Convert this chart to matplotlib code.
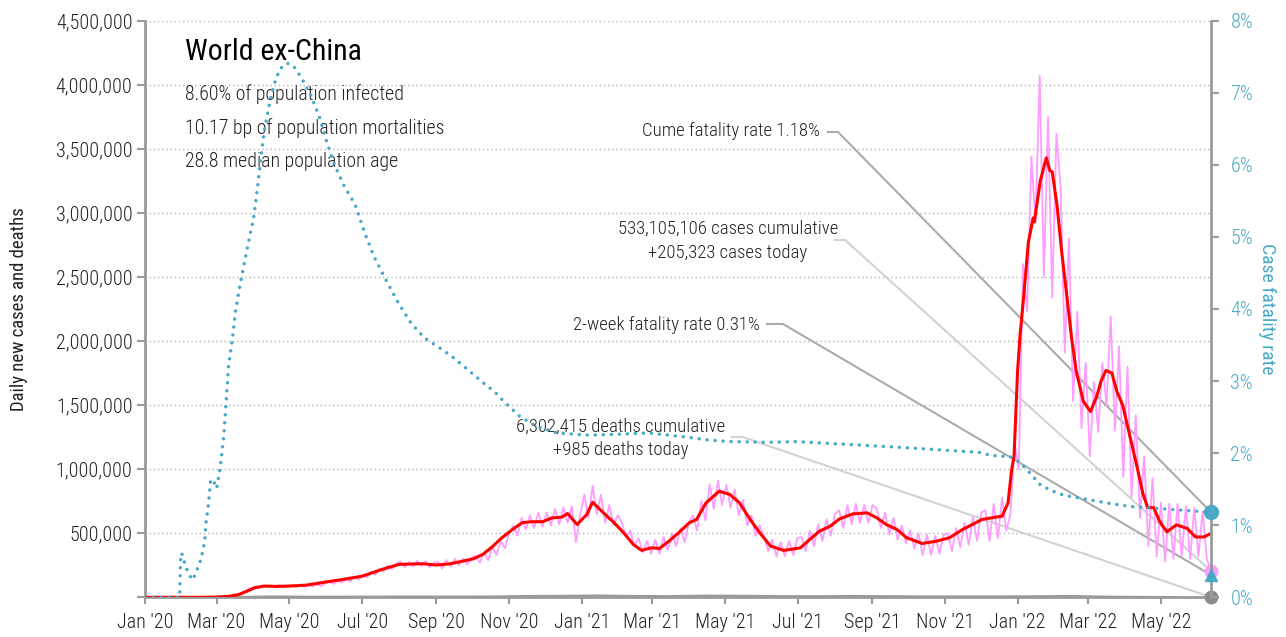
import matplotlib
matplotlib.use("Agg")
import matplotlib.pyplot as plt
import matplotlib.dates as mdates
from matplotlib import font_manager
from matplotlib.ticker import FuncFormatter, MultipleLocator
import numpy as np
import pandas as pd

# pick a narrow font if one is installed
installed = {f.name for f in font_manager.fontManager.ttflist}
family = "DejaVu Sans"
for cand in ["Roboto Condensed", "Liberation Sans Narrow", "Open Sans Condensed"]:
    if cand in installed:
        family = cand
        break
plt.rcParams["font.family"] = [family, "DejaVu Sans"]
plt.rcParams["font.weight"] = "light"

# ---- data ----
end_date = "2022-06-12"

# daily new cases, thousands, one value every 3.5 days (peak / trough of the weekly cycle)
pink_k = [
    0, 0, 0, 0, 0, 0, 0, 0, 0,                      # Jan '20
    0, 0, 0, 0, 1, 1, 1, 2,                         # Feb
    2, 3, 4, 8, 12, 22, 35, 52, 68,                 # Mar
    80, 72, 88, 78, 92, 80, 95, 78, 90,             # Apr
    92, 80, 95, 82, 98, 85, 100, 88, 110,           # May
    120, 105, 130, 115, 140, 125, 160, 140,         # Jun
    175, 155, 200, 175, 225, 200, 250, 220, 265,    # Jul
    280, 235, 275, 240, 285, 245, 280, 235, 270,    # Aug
    275, 225, 290, 240, 300, 250, 300, 255, 310,    # Sep
    320, 270, 350, 290, 390, 330, 440, 380, 500,    # Oct
    560, 480, 620, 530, 640, 540, 660, 550,         # Nov
    660, 560, 690, 570, 700, 580, 710, 430, 640,    # Dec
    800, 620, 870, 650, 800, 580, 720, 560, 640,    # Jan '21
    580, 470, 520, 400, 460, 350, 440, 340,         # Feb
    450, 340, 470, 370, 500, 400, 540, 430, 580,    # Mar
    640, 520, 750, 600, 880, 690, 910, 720,         # Apr
    880, 700, 840, 640, 760, 560, 640, 480, 560,    # May
    480, 360, 450, 320, 430, 320, 440, 330, 460,    # Jun
    470, 360, 520, 400, 570, 440, 610, 480, 650,    # Jul
    680, 540, 720, 570, 730, 580, 720, 580, 720,    # Aug
    690, 540, 660, 490, 620, 450, 560, 420,         # Sep
    520, 380, 500, 330, 490, 330, 480, 340, 490,    # Oct
    500, 360, 540, 390, 580, 410, 630, 440, 660,    # Nov
    680, 440, 730, 460, 780, 520, 650, 1200,        # Dec
    1000, 2600, 2230, 3440, 2920, 4070, 2500, 3750, 2340,  # Jan '22
    3620, 3200, 1910, 2800, 1530, 2230, 1320, 1830,        # Feb
    1100, 1680, 1290, 1830, 1500, 2190, 1300, 1960, 940,   # Mar
    1800, 780, 1420, 620, 1100, 400, 930, 320, 740,        # Apr
    280, 730, 300, 730, 320, 710, 300, 700,                # May
    320, 670, 300, 205,                                    # Jun
]

# 7-day average of new cases, thousands
red_dates = [
    "2020-01-01", "2020-02-15", "2020-03-01", "2020-03-12", "2020-03-20", "2020-03-27",
    "2020-04-02", "2020-04-10", "2020-04-20", "2020-05-01", "2020-05-15", "2020-06-01",
    "2020-06-15", "2020-07-01", "2020-07-20", "2020-08-01", "2020-08-20", "2020-09-01",
    "2020-09-13", "2020-10-02", "2020-10-10", "2020-10-18", "2020-10-26", "2020-11-04",
    "2020-11-12", "2020-11-20", "2020-11-29", "2020-12-07", "2020-12-15", "2020-12-20",
    "2020-12-28", "2021-01-05", "2021-01-10", "2021-01-19", "2021-01-28", "2021-02-05",
    "2021-02-13", "2021-02-20", "2021-02-28", "2021-03-07", "2021-03-15", "2021-03-23",
    "2021-04-01", "2021-04-07", "2021-04-15", "2021-04-26", "2021-05-05", "2021-05-13",
    "2021-05-22", "2021-05-30", "2021-06-08", "2021-06-19", "2021-07-03", "2021-07-11",
    "2021-07-19", "2021-07-28", "2021-08-05", "2021-08-16", "2021-08-28", "2021-09-05",
    "2021-09-13", "2021-09-22", "2021-09-30", "2021-10-13", "2021-10-25", "2021-11-05",
    "2021-11-16", "2021-11-27", "2021-12-02", "2021-12-10", "2021-12-19", "2021-12-24",
    "2021-12-27", "2021-12-29", "2022-01-01", "2022-01-03", "2022-01-06", "2022-01-10",
    "2022-01-14", "2022-01-15", "2022-01-20", "2022-01-25", "2022-01-28", "2022-01-30",
    "2022-02-03", "2022-02-07", "2022-02-11", "2022-02-15", "2022-02-19", "2022-02-25",
    "2022-03-03", "2022-03-08", "2022-03-12", "2022-03-16", "2022-03-21", "2022-03-25",
    "2022-03-30", "2022-04-05", "2022-04-11", "2022-04-16", "2022-04-20", "2022-04-25",
    "2022-04-30", "2022-05-06", "2022-05-14", "2022-05-23", "2022-05-30", "2022-06-06",
    "2022-06-12",
]
red_k = [
    0, 0, 2, 8, 23, 50,
    75, 88, 85, 88, 95, 120,
    140, 165, 225, 257, 262, 252,
    262, 300, 335, 395, 465, 530,
    582, 590, 590, 620, 625, 654,
    568, 646, 742, 659, 582, 503,
    413, 366, 386, 381, 439, 503,
    582, 607, 737, 828, 802, 737,
    607, 503, 400, 366, 386, 452,
    516, 555, 613, 651, 659, 620,
    568, 529, 465, 420, 438, 465,
    530, 582, 607, 620, 633, 737,
    997, 1100, 1770, 2040, 2340, 2770,
    2960, 2930, 3250, 3430, 3330, 3320,
    3060, 2690, 2370, 2040, 1770, 1530,
    1450, 1560, 1690, 1770, 1750, 1610,
    1500, 1260, 1020, 807, 700, 700,
    592, 511, 565, 538, 471, 471,
    498,
]

# daily deaths, thousands (monthly read, hugs the zero line)
death_k = [0, 0, 2, 6.5, 4.5, 4.8, 5.5, 6, 5.5, 6, 10, 11.5,
           14, 10, 9, 13, 12, 9, 8.5, 10, 8.5, 7, 7, 7,
           8, 10.5, 5, 3, 2]

# case fatality rate, percent
cfr_dates = [
    "2020-01-01", "2020-01-30", "2020-01-31", "2020-02-01", "2020-02-04", "2020-02-07",
    "2020-02-10", "2020-02-13", "2020-02-17", "2020-02-20", "2020-02-21", "2020-02-23",
    "2020-02-25", "2020-02-27", "2020-03-01", "2020-03-04", "2020-03-07", "2020-03-09",
    "2020-03-11", "2020-03-14", "2020-03-17", "2020-03-20", "2020-03-24", "2020-03-27",
    "2020-04-01", "2020-04-04", "2020-04-07", "2020-04-10", "2020-04-14", "2020-04-18",
    "2020-04-23", "2020-04-29", "2020-05-04", "2020-05-11", "2020-05-19", "2020-05-26",
    "2020-06-01", "2020-06-08", "2020-06-16", "2020-06-25", "2020-07-03", "2020-07-11",
    "2020-07-20", "2020-07-31", "2020-08-11", "2020-08-22", "2020-09-03", "2020-09-15",
    "2020-09-28", "2020-10-10", "2020-10-20", "2020-10-28", "2020-11-10", "2020-11-24",
    "2020-12-11", "2021-01-06", "2021-01-28", "2021-02-26", "2021-03-26", "2021-04-18",
    "2021-05-07", "2021-06-05", "2021-06-30", "2021-09-25", "2021-12-01", "2021-12-09",
    "2021-12-26", "2022-01-03", "2022-01-11", "2022-01-20", "2022-01-28", "2022-02-06",
    "2022-02-14", "2022-03-03", "2022-03-20", "2022-04-05", "2022-04-22", "2022-05-09",
    "2022-05-26", "2022-06-12",
]
cfr_pct = [
    0, 0, 0.61, 0.60, 0.43, 0.31,
    0.24, 0.36, 0.53, 0.78, 1.02, 1.27,
    1.63, 1.63, 1.51, 1.80, 2.24, 2.72,
    3.21, 3.56, 3.99, 4.28, 4.62, 4.87,
    5.26, 5.65, 6.09, 6.48, 6.82, 7.11,
    7.33, 7.41, 7.38, 7.21, 6.96, 6.67,
    6.33, 5.99, 5.70, 5.45, 5.06, 4.72,
    4.43, 4.09, 3.80, 3.60, 3.47, 3.33,
    3.15, 2.98, 2.85, 2.71, 2.51, 2.37,
    2.28, 2.25, 2.26, 2.28, 2.23, 2.18,
    2.16, 2.15, 2.16, 2.08, 2.01, 1.97,
    1.95, 1.87, 1.73, 1.56, 1.49, 1.43,
    1.40, 1.35, 1.30, 1.26, 1.24, 1.22,
    1.20, 1.18,
]

cume_cfr = 1.18
two_week_cfr = 0.31
cases_today = 205323
deaths_today = 985

title = "World ex-China"
facts = ["8.60% of population infected",
         "10.17 bp of population mortalities",
         "28.8 median population age"]

# ---- plot ----
TEAL = "#47a9c6"
GRID = "#b4b4b4"
SPINE = "#9a9a9a"

pink_dates = pd.date_range(end=end_date, periods=len(pink_k), freq="84h")
red_dt = pd.to_datetime(red_dates)
cfr_dt = pd.to_datetime(cfr_dates)
death_dates = pd.date_range("2020-01-01", periods=len(death_k), freq="MS") + pd.Timedelta(days=14)
end = pd.Timestamp(end_date)

fig = plt.figure(figsize=(12.86, 6.37), dpi=100)
ax = fig.add_axes([145 / 1286, 39.7 / 637, 1066 / 1286, 576.6 / 637])
ax2 = ax.twinx()

ax.plot(pink_dates, np.array(pink_k) * 1000, color="#ff9cff", lw=1.3, zorder=2)
ax.plot(death_dates, np.array(death_k) * 1000, color="#999999", lw=1.5, zorder=2)
ax.plot(red_dt, np.array(red_k) * 1000, color="#ff0000", lw=2.2, zorder=3)
ax2.plot(cfr_dt, np.array(cfr_pct) / 100, color=TEAL, lw=2.5,
         linestyle=(0, (0.01, 2.3)), dash_capstyle="round", zorder=3)

# end-of-series markers
ax.plot([end], [cases_today], "o", color="#ff9cff", ms=9, clip_on=False, zorder=5)
ax.plot([end], [deaths_today], "o", color="#8c8c8c", ms=9, clip_on=False, zorder=5)
ax2.plot([end], [cume_cfr / 100], "o", color=TEAL, ms=10, clip_on=False, zorder=5)
ax2.plot([end], [two_week_cfr / 100], "^", color=TEAL, ms=9, clip_on=False, zorder=5)

# axes
ax.set_xlim(pd.Timestamp("2020-01-01"), end)
ax.set_ylim(0, 4500000)
ax2.set_ylim(0, 0.08)
ax.yaxis.set_major_locator(MultipleLocator(500000))
ax.yaxis.set_major_formatter(FuncFormatter(lambda v, p: "" if v == 0 else f"{v:,.0f}"))
ax2.yaxis.set_major_locator(MultipleLocator(0.01))
ax2.yaxis.set_major_formatter(FuncFormatter(lambda v, p: f"{v * 100:.0f}%"))
ax.xaxis.set_major_locator(mdates.MonthLocator(bymonth=[1, 3, 5, 7, 9, 11]))
ax.xaxis.set_major_formatter(mdates.DateFormatter("%b '%y"))

ax.yaxis.grid(True, linestyle=(0, (1, 2)), color=GRID, lw=1)
ax.set_axisbelow(True)

for s in ["top", "right"]:
    ax.spines[s].set_visible(False)
for s in ["left", "bottom"]:
    ax.spines[s].set_color(SPINE)
    ax.spines[s].set_linewidth(2)
for s in ["top", "left", "bottom"]:
    ax2.spines[s].set_visible(False)
ax2.spines["right"].set_color(SPINE)
ax2.spines["right"].set_linewidth(2)

ax.tick_params(axis="y", length=6, width=1.5, color=SPINE, labelsize=14.5, pad=3,
               labelcolor="#222222")
ax.tick_params(axis="x", length=5, width=1.5, color=SPINE, labelsize=14.5, pad=6,
               labelcolor="#222222")
ax2.tick_params(axis="y", length=6, width=1.5, color=SPINE, labelsize=14.5,
                labelcolor=TEAL, pad=8)

ax.set_ylabel("Daily new cases and deaths", fontsize=13.5, color="#222222")
ax.yaxis.set_label_coords(-0.11, 0.5)
ax2.set_ylabel("Case fatality rate", fontsize=14, color=TEAL, rotation=270,
               va="center", ha="center", rotation_mode="default")
ax2.yaxis.set_label_coords(1.0525, 0.5)

# title block
ax.text(0.0375, 0.9457, title, transform=ax.transAxes, fontsize=21.5,
        fontweight="normal", va="center", ha="left")
for i, line in enumerate(facts):
    ax.text(0.0375, 0.8725 - i * 0.0583, line, transform=ax.transAxes,
            fontsize=14.3, va="center", ha="left", color="#222222")

# callouts with leader lines
DARK = "#ababab"
LIGHT = "#d2d2d2"
callouts = [
    (f"Cume fatality rate {cume_cfr:.2f}%", 0.6332, 0.8083, 0.6405, 0.6504, 0.8065,
     (end, cume_cfr / 100), ax2, DARK),
    ("533,105,106 cases cumulative\n+205,323 cases today", 0.6501, 0.6179, 0.6473, 0.6567, 0.6197,
     (end, cases_today), ax, LIGHT),
    (f"2-week fatality rate {two_week_cfr:.2f}%", 0.5769, 0.4723, 0.5835, 0.5985, 0.474,
     (end, two_week_cfr / 100), ax2, DARK),
    ("6,302,415 deaths cumulative\n+985 deaths today", 0.5441, 0.2754, 0.5504, 0.5613, 0.2775,
     (end, deaths_today), ax, LIGHT),
]
for text, tx, ty, hx0, hx1, hy, target, tax, col in callouts:
    ax.text(tx, ty, text, transform=ax.transAxes, fontsize=13.5, ha="right",
            va="center", multialignment="center", linespacing=1.4, zorder=6,
            color="#222222")
    ax.plot([hx0, hx1], [hy, hy], transform=ax.transAxes, color=col, lw=1.5,
            clip_on=False, zorder=1.5)
    ax.annotate("", xy=(mdates.date2num(target[0]), target[1]), xycoords=tax.transData,
                xytext=(hx1, hy), textcoords="axes fraction",
                arrowprops=dict(arrowstyle="-", color=col, lw=1.5,
                                shrinkA=0, shrinkB=0), zorder=1.5)

fig.savefig("out.png", dpi=100)
